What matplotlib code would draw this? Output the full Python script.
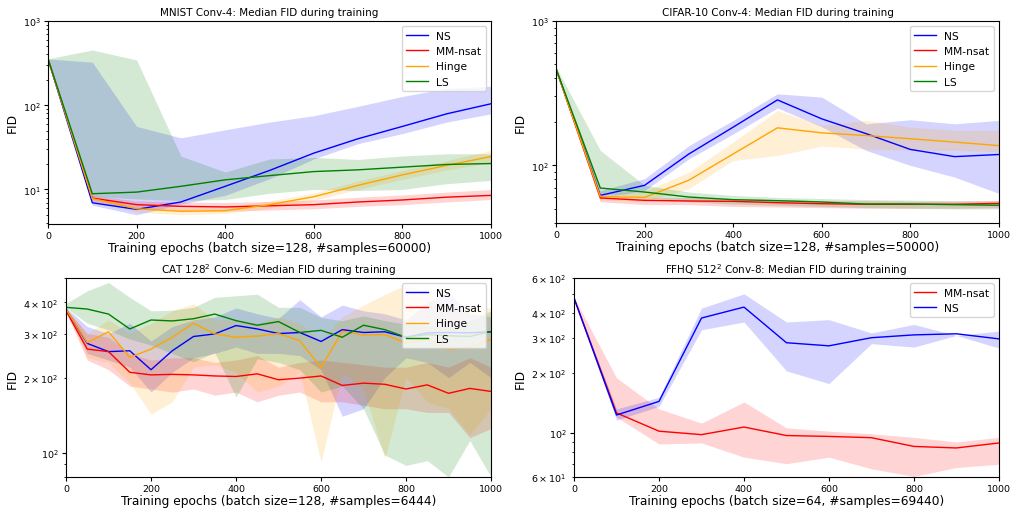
import numpy as np
import matplotlib
matplotlib.use("Agg")
import matplotlib.pyplot as plt

# epochs at which FID was evaluated
EPOCHS_100 = [0, 100, 200, 300, 400, 500, 600, 700, 800, 900, 1000]
EPOCHS_50 = list(range(0, 1001, 50))

# MNIST Conv-4 (median, low, high)
mnist_ns = [354, 6.95, 5.8, 7.1, 10.9, 16.8, 27, 40, 56, 79, 104]
mnist_ns_hi = [354, 324, 56, 41, 51, 63, 75, 97, 127, 158, 168]
mnist_ns_lo = [354, 6.5, 5.0, 6.7, 8.5, 13.4, 23, 35, 46, 63, 79]
mnist_mm = [354, 7.9, 6.6, 6.3, 6.2, 6.4, 6.6, 7.1, 7.5, 8.1, 8.5]
mnist_mm_hi = [356, 8.5, 7.3, 7.1, 7.0, 7.2, 7.5, 8.1, 8.6, 9.3, 10]
mnist_mm_lo = [352, 7.3, 5.9, 5.6, 5.5, 5.7, 5.9, 6.3, 6.6, 7.1, 7.6]
mnist_hinge = [354, 7.8, 5.9, 5.5, 5.6, 6.6, 8.2, 11.2, 14.9, 19.3, 24.6]
mnist_hinge_hi = [356, 8.3, 6.4, 6.0, 6.1, 7.3, 9.1, 12.6, 16.8, 22, 29]
mnist_hinge_lo = [352, 7.3, 5.4, 5.0, 5.2, 6.0, 7.4, 10.0, 13.2, 17, 21]
mnist_ls = [354, 8.9, 9.3, 10.9, 13, 14.6, 16.3, 17.1, 18.4, 19.8, 20.3]
mnist_ls_hi = [356, 452, 344, 24.9, 16.1, 23, 24, 22.7, 25, 26.5, 26.5]
mnist_ls_lo = [352, 8.3, 7.7, 7.4, 7.6, 9.0, 10, 9.7, 10, 11.7, 12.8]

# CIFAR-10 Conv-4
cifar_ns = [466, 62, 72.8, 120, 184, 284, 210, 166, 129, 115, 119]
cifar_ns_hi = [470, 67, 81, 137, 205, 313, 297, 194, 207, 194, 205]
cifar_ns_lo = [460, 59.5, 67, 111, 165, 250, 185, 127, 100, 83, 64]
cifar_mm = [466, 59.5, 57.3, 56.7, 56.4, 55.2, 54.3, 53.8, 53.8, 53.8, 54.6]
cifar_mm_hi = [470, 62, 60, 60, 59, 58, 57, 57, 56.5, 56.5, 57]
cifar_mm_lo = [460, 56, 53.5, 53.5, 52, 51.5, 51, 50.5, 50.5, 50.5, 51]
cifar_hinge = [466, 61, 60, 79, 120, 182, 168, 161, 153, 145, 137]
cifar_hinge_hi = [470, 64, 66, 90, 145, 240, 189, 205, 184, 175, 175]
cifar_hinge_lo = [460, 58, 56, 69, 108, 117, 136, 130, 127, 127, 124]
cifar_ls = [466, 69.7, 65.4, 60.4, 57.9, 57, 55.8, 54, 54, 53.5, 53]
cifar_ls_hi = [480, 127, 72.8, 65.4, 62, 60, 59, 58, 57.5, 57, 57]
cifar_ls_lo = [455, 64, 60, 56, 54, 53, 52, 51, 50.5, 50, 50]

# CAT 128^2 Conv-6
cat_ns = [376, 274, 254, 256, 215, 256, 292, 299, 323, 313, 300,
          303, 279, 311, 303, 305, 290, 302, 303, 302, 305]
cat_ns_hi = [380, 320, 300, 330, 280, 320, 340, 350, 380, 360, 345,
             410, 350, 390, 370, 360, 340, 400, 440, 360, 350]
cat_ns_lo = [370, 250, 235, 220, 175, 210, 240, 250, 265, 250, 250,
             245, 215, 140, 150, 200, 240, 230, 200, 230, 200]
cat_mm = [370, 260, 254, 210, 205, 206, 205, 203, 202, 207, 196,
          199, 203, 186, 190, 188, 180, 187, 173, 181, 176]
cat_mm_hi = [375, 300, 290, 250, 235, 240, 240, 230, 235, 245, 220,
             230, 235, 230, 225, 220, 220, 230, 220, 240, 220]
cat_mm_lo = [365, 235, 215, 185, 180, 175, 180, 170, 175, 160, 170,
             175, 160, 160, 155, 150, 150, 145, 145, 115, 125]
cat_hinge = [376, 276, 305, 241, 260, 290, 330, 299, 290, 293, 300,
             281, 219, 306, 296, 297, 275, 285, 260, 264, 285]
cat_hinge_hi = [380, 300, 340, 300, 330, 370, 395, 340, 340, 330, 350,
                330, 280, 350, 390, 430, 470, 440, 380, 380, 380]
cat_hinge_lo = [370, 240, 230, 190, 143, 160, 220, 225, 210, 175, 185,
                210, 92, 210, 180, 95, 200, 160, 150, 118, 150]
cat_ls = [382, 376, 359, 313, 340, 337, 344, 359, 338, 324, 335,
          303, 309, 290, 324, 311, 290, 297, 294, 292, 306]
cat_ls_hi = [396, 445, 480, 419, 370, 372, 382, 419, 425, 431, 382,
             382, 348, 338, 353, 338, 327, 322, 320, 338, 370]
cat_ls_lo = [380, 330, 310, 285, 270, 250, 231, 252, 167, 238, 230,
             215, 175, 185, 150, 98, 89, 93, 80, 112, 80]

# FFHQ 512^2 Conv-8
ffhq_mm = [476, 126, 102, 98, 107, 97, 96, 94.6, 85.5, 84, 89]
ffhq_mm_hi = [480, 189, 132, 112, 143, 106, 102, 99, 95, 90, 95]
ffhq_mm_lo = [472, 120, 88, 89, 75.5, 70, 75.5, 66, 60.4, 67, 69.5]
ffhq_ns = [476, 123, 144, 378, 429, 284, 274, 301, 311, 315, 297]
ffhq_ns_hi = [480, 132, 151, 424, 500, 361, 371, 318, 351, 309, 325]
ffhq_ns_lo = [472, 116, 136, 330, 361, 205, 177, 281, 270, 309, 267]

plt.rcParams["font.family"] = "DejaVu Sans"
plt.rcParams["xtick.labelsize"] = 6.8
plt.rcParams["ytick.labelsize"] = 6.8
plt.rcParams["xtick.major.size"] = 3
plt.rcParams["ytick.major.size"] = 3
plt.rcParams["ytick.minor.size"] = 1.8
plt.rcParams["xtick.major.pad"] = 2
plt.rcParams["ytick.major.pad"] = 2.5
plt.rcParams["axes.linewidth"] = 0.8


def panel(ax, x, series, title, xlabel, ylim):
    for name, color, med, lo, hi in series:
        ax.plot(x, med, color=color, lw=1.0, label=name)
        ax.fill_between(x, lo, hi, color=color, alpha=0.17, lw=0)
    ax.set_yscale("log")
    ax.set_xlim(0, 1000)
    ax.set_ylim(*ylim)
    ax.set_title(title, fontsize=7.5, pad=4)
    ax.set_xlabel(xlabel, fontsize=8.8, labelpad=1)
    ax.set_ylabel("FID", fontsize=8.8, labelpad=3)
    ax.legend(loc="upper right", fontsize=7.7, handlelength=2.0)


fig = plt.figure(figsize=(10.11, 5.10), dpi=100)
ax_mnist = fig.add_axes([0.0475, 0.559, 0.4382, 0.398])
ax_cifar = fig.add_axes([0.550, 0.561, 0.438, 0.396])
ax_cat = fig.add_axes([0.0653, 0.0627, 0.4204, 0.390])
ax_ffhq = fig.add_axes([0.5678, 0.0627, 0.4202, 0.390])

panel(ax_mnist, EPOCHS_100, [
    ("NS", "blue", mnist_ns, mnist_ns_lo, mnist_ns_hi),
    ("MM-nsat", "red", mnist_mm, mnist_mm_lo, mnist_mm_hi),
    ("Hinge", "orange", mnist_hinge, mnist_hinge_lo, mnist_hinge_hi),
    ("LS", "green", mnist_ls, mnist_ls_lo, mnist_ls_hi),
], "MNIST Conv-4: Median FID during training",
    "Training epochs (batch size=128, #samples=60000)", (3.9, 1000))

panel(ax_cifar, EPOCHS_100, [
    ("NS", "blue", cifar_ns, cifar_ns_lo, cifar_ns_hi),
    ("MM-nsat", "red", cifar_mm, cifar_mm_lo, cifar_mm_hi),
    ("Hinge", "orange", cifar_hinge, cifar_hinge_lo, cifar_hinge_hi),
    ("LS", "green", cifar_ls, cifar_ls_lo, cifar_ls_hi),
], "CIFAR-10 Conv-4: Median FID during training",
    "Training epochs (batch size=128, #samples=50000)", (40, 1000))

panel(ax_cat, EPOCHS_50, [
    ("NS", "blue", cat_ns, cat_ns_lo, cat_ns_hi),
    ("MM-nsat", "red", cat_mm, cat_mm_lo, cat_mm_hi),
    ("Hinge", "orange", cat_hinge, cat_hinge_lo, cat_hinge_hi),
    ("LS", "green", cat_ls, cat_ls_lo, cat_ls_hi),
], "CAT $128^2$ Conv-6: Median FID during training",
    "Training epochs (batch size=128, #samples=6444)", (80, 500))

panel(ax_ffhq, EPOCHS_100, [
    ("MM-nsat", "red", ffhq_mm, ffhq_mm_lo, ffhq_mm_hi),
    ("NS", "blue", ffhq_ns, ffhq_ns_lo, ffhq_ns_hi),
], "FFHQ $512^2$ Conv-8: Median FID during training",
    "Training epochs (batch size=64, #samples=69440)", (60, 600))

fig.savefig("out.png", dpi=100)
